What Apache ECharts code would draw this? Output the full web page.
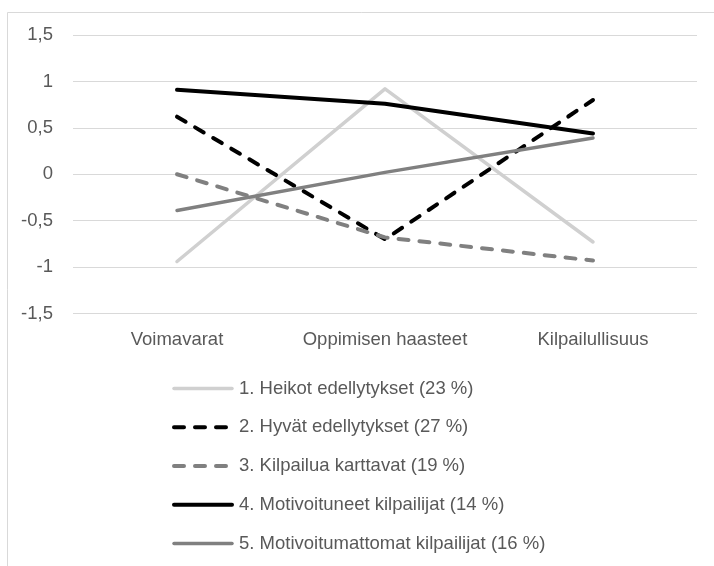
<!DOCTYPE html>
<html>
<head>
<meta charset="utf-8">
<script src="https://cdn.jsdelivr.net/npm/echarts@6/dist/echarts.min.js"></script>
<style>html,body{margin:0;padding:0;background:#fff;}#c{width:714px;height:566px;}</style>
</head>
<body>
<div id="c"></div>
<script>
const categories = ['Voimavarat', 'Oppimisen haasteet', 'Kilpailullisuus'];
const seriesNames = [
  '1. Heikot edellytykset (23 %)',
  '2. Hyvät edellytykset (27 %)',
  '3. Kilpailua karttavat (19 %)',
  '4. Motivoituneet kilpailijat (14 %)',
  '5. Motivoitumattomat kilpailijat (16 %)'
];
const heikot = [-0.94, 0.92, -0.73];
const hyvat = [0.62, -0.70, 0.80];
const karttavat = [0.00, -0.68, -0.93];
const motivoituneet = [0.91, 0.76, 0.44];
const motivoitumattomat = [-0.39, 0.02, 0.39];
const yTicks = { min: -1.5, max: 1.5, interval: 0.5 };

const values = [heikot, hyvat, karttavat, motivoituneet, motivoitumattomat];
const styles = [
  { color: '#d0d0d0', width: 3.5, type: 'solid' },
  { color: '#000000', width: 4, type: [10, 11] },
  { color: '#808080', width: 4, type: [10, 11] },
  { color: '#000000', width: 4, type: 'solid' },
  { color: '#808080', width: 3.5, type: 'solid' }
];
const font = '"Liberation Sans", Arial, sans-serif';

const chart = echarts.init(document.getElementById('c'), null, { renderer: 'canvas' });
chart.setOption({
  animation: false,
  backgroundColor: '#ffffff',
  graphic: [{
    type: 'rect', left: 5, top: 10, silent: true, z: -10,
    shape: { width: 730, height: 600 },
    style: { fill: 'none', stroke: '#d9d9d9', lineWidth: 1 }
  }],
  grid: { left: 73, right: 17, top: 35, bottom: 252.5, containLabel: false },
  xAxis: {
    type: 'category', data: categories, boundaryGap: true,
    axisLine: { show: false }, axisTick: { show: false },
    axisLabel: { color: '#595959', fontFamily: font, fontSize: 18.5, margin: 17, interval: 0 }
  },
  yAxis: {
    type: 'value', min: yTicks.min, max: yTicks.max, interval: yTicks.interval,
    axisLine: { show: false }, axisTick: { show: false },
    splitLine: { lineStyle: { color: '#d9d9d9', width: 1 } },
    axisLabel: {
      color: '#595959', fontFamily: font, fontSize: 18.5, margin: 20,
      formatter: v => String(v).replace('.', ',')
    }
  },
  legend: {
    orient: 'vertical', left: 172, top: 378.5, padding: 0,
    itemWidth: 58, itemHeight: 20, itemGap: 18.75,
    textStyle: { color: '#595959', fontFamily: font, fontSize: 18.5, lineHeight: 20, padding: [0, 0, 0, 2] },
    data: seriesNames.map((name, i) => ({
      name: name,
      itemStyle: { opacity: 0 },
      lineStyle: { color: styles[i].color, width: styles[i].width, type: styles[i].type, cap: 'round' }
    }))
  },
  series: seriesNames.map((name, i) => ({
    name: name, type: 'line', data: values[i],
    symbol: 'none', showSymbol: false,
    lineStyle: { color: styles[i].color, width: styles[i].width, type: styles[i].type, cap: 'round', join: 'round' },
    itemStyle: { color: styles[i].color }
  }))
});
</script>
</body>
</html>
